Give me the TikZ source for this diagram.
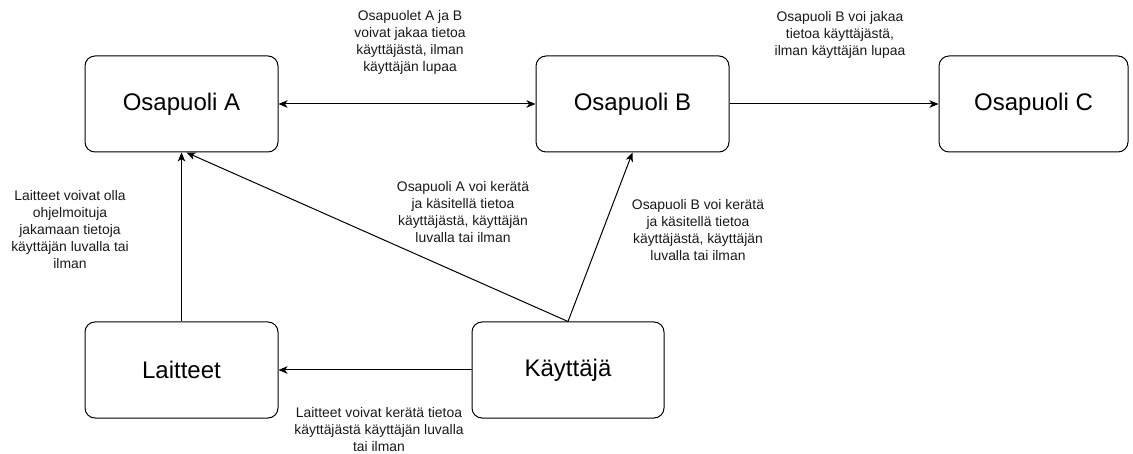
\documentclass[tikz,border=0pt]{standalone}
\usepackage{fontspec}
\setmainfont{Liberation Sans}
\usetikzlibrary{arrows.meta}
\begin{document}
\begin{tikzpicture}[x=1pt,y=-1pt,
  box/.style={draw, line width=1pt, rounded corners=10pt, minimum width=193pt, minimum height=96pt, inner sep=0pt, font=\fontsize{24}{28}\selectfont},
  lbl/.style={align=center, inner sep=0pt, text=black!90, font=\fontsize{13.9}{17}\selectfont},
  arr/.style={line width=1pt, -{Stealth[length=9pt,width=7.5pt,inset=2.5pt]}},
  darr/.style={line width=1pt, {Stealth[length=9pt,width=7.5pt,inset=2.5pt]}-{Stealth[length=9pt,width=7.5pt,inset=2.5pt]}}]
\useasboundingbox (0,0) rectangle (1133,454);
\node[box] (A) at (181.5,104) {Osapuoli A};
\node[box] (B) at (632.5,104) {Osapuoli B};
\node[box, minimum width=189pt] (C) at (1033.5,104) {Osapuoli C};
\node[box] (L) at (181.5,370) {Laitteet};
\node[box, minimum width=192pt] (K) at (568,370) {Käyttäjä};
\coordinate (Aend) at ([xshift=5pt]A.south);
\draw[darr] (A.east) -- (B.west);
\draw[arr] (B.east) -- (C.west);
\draw[arr] (L.north) -- (A.south);
\draw[arr] (K.west) -- (L.east);
\draw[arr] (K.north) -- (Aend);
\draw[arr] (K.north) -- (B.south);
\node[lbl] (t1) at (410,42.5) {Osapuolet A ja B\\voivat jakaa tietoa\\käyttäjästä, ilman\\käyttäjän lupaa};
\node[lbl] (t2) at (840,35) {Osapuoli B voi jakaa\\tietoa käyttäjästä,\\ilman käyttäjän lupaa};
\node[lbl] (t3) at (463,212.5) {Osapuoli A voi kerätä\\ja käsitellä tietoa\\käyttäjästä, käyttäjän\\luvalla tai ilman};
\node[lbl] (t4) at (698,230) {Osapuoli B voi kerätä\\ja käsitellä tietoa\\käyttäjästä, käyttäjän\\luvalla tai ilman};
\node[lbl] (t5) at (70,230) {Laitteet voivat olla\\ohjelmoituja\\jakamaan tietoja\\käyttäjän luvalla tai\\ilman};
\node[lbl] (t6) at (379,430) {Laitteet voivat kerätä tietoa\\käyttäjästä käyttäjän luvalla\\tai ilman};
\end{tikzpicture}
\end{document}
